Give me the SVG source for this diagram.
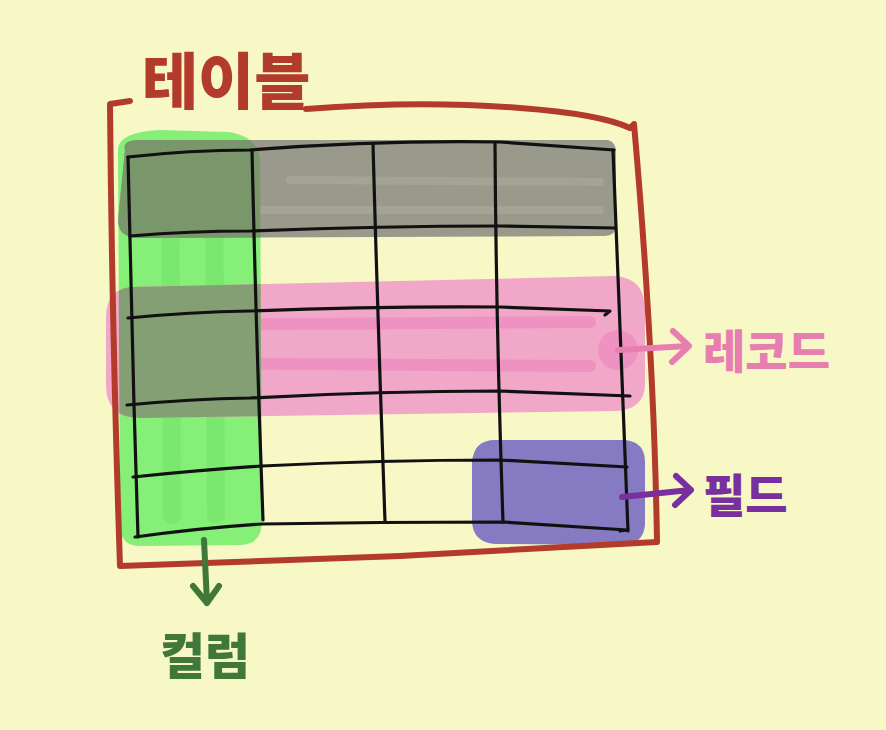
<svg xmlns="http://www.w3.org/2000/svg" width="886" height="730" viewBox="0 0 886 730">
<defs>
<style>
.bg{fill:#f8f8c7}
.frame{fill:none;stroke:#b23b2c;stroke-width:6;stroke-linecap:round;stroke-linejoin:round}
.grid{fill:none;stroke:#111;stroke-width:3.2;stroke-linecap:round;stroke-linejoin:round}
.lbl{font-family:"Noto Sans CJK KR","Noto Sans",sans-serif;font-weight:900}
.arr{fill:none;stroke-width:6;stroke-linecap:round;stroke-linejoin:round}
</style>
<clipPath id="greenClip">
<path d="M118,150 Q118,132 160,130 L228,132 Q258,136 260,160 L262,520 Q262,545 240,545 L140,546 Q120,546 120,525 Z"/>
</clipPath>
</defs>
<rect class="bg" x="0" y="0" width="886" height="730"/>

<g id="highlights">
<!-- green column -->
<path d="M118,150 Q118,132 160,130 L228,132 Q258,136 260,160 L262,520 Q262,545 240,545 L140,546 Q120,546 120,525 Z" fill="#86ef78"/>
<path d="M170,165 L172,515 M214,165 L216,515" stroke="#7ae76e" stroke-width="18" stroke-linecap="round" fill="none"/>
<!-- gray header band -->
<path d="M125,150 Q122,140 140,140 L608,140 Q616,142 616,152 L616,228 Q614,236 604,236 L140,238 Q118,238 118,220 Z" fill="#9a9a8c"/>
<path d="M290,180 L600,182 M150,210 L600,210" stroke="#a4a494" stroke-width="8" stroke-linecap="round" fill="none"/>
<!-- pink record band -->
<path d="M130,287 L615,276 Q645,278 645,310 L645,385 Q644,410 615,411 L140,418 Q106,418 106,385 L106,318 Q106,290 130,287 Z" fill="#f1a8c8"/>
<path d="M160,325 L590,322 M160,363 L590,366" stroke="#ee92c2" stroke-width="12" stroke-linecap="round" fill="none"/>
<circle cx="618" cy="350" r="20" fill="#ee92c2"/>
<!-- overlaps on green column -->
<g clip-path="url(#greenClip)">
<path d="M125,150 Q122,140 140,140 L608,140 Q616,142 616,152 L616,228 Q614,236 604,236 L140,238 Q118,238 118,220 Z" fill="#7a976c"/>
<path d="M130,287 L615,276 Q645,278 645,310 L645,385 Q644,410 615,411 L140,418 Q106,418 106,385 L106,318 Q106,290 130,287 Z" fill="#849f74"/>
</g>
<!-- purple field -->
<path d="M495,440 L625,440 Q645,442 645,462 L645,525 Q643,545 622,545 L495,544 Q472,542 472,520 L472,462 Q474,440 495,440 Z" fill="#867ac2"/>
</g>

<g id="grid">
<path class="grid" d="M128,157 Q190,150 250,150 Q380,140 500,142 L614,150"/>
<path class="grid" d="M130,236 Q190,231 250,231 Q380,226 500,226 L615,228"/>
<path class="grid" d="M128,318 Q190,312 250,311 Q380,306 500,307 L610,311 L605,315"/>
<path class="grid" d="M127,405 Q190,399 250,398 Q380,391 500,391 L630,396"/>
<path class="grid" d="M133,477 Q200,470 262,466 Q380,460 500,460 L627,467"/>
<path class="grid" d="M135,537 Q200,528 262,524 Q380,522 503,522 L627,530 L620,531"/>
<path class="grid" d="M128,157 Q131,300 134,405 L138,537"/>
<path class="grid" d="M252,150 Q256,330 263,520"/>
<path class="grid" d="M373,144 Q378,330 385,521"/>
<path class="grid" d="M495,143 Q496,320 503,522"/>
<path class="grid" d="M613,150 Q620,320 628,531"/>
</g>

<g id="table">
<path class="frame" d="M130,101 L110,104 Q112,330 120,566 L400,556 L657,542 Q654,350 634,124 L630,128"/>
<path class="frame" d="M306,109 Q420,100 520,108 Q600,114 630,128"/>
<text class="lbl" x="142" y="104" font-size="61" fill="#b23b2c">테이블</text>
</g>

<g id="record">
<text class="lbl" x="703" y="368" font-size="46" fill="#e67fb0">레코드</text>
</g>
<g id="field">
<text class="lbl" x="703" y="512" font-size="46" fill="#7a2f9e">필드</text>
</g>
<g id="column">
<text class="lbl" x="160" y="674" font-size="49" fill="#3f7838">컬럼</text>
</g>

<g id="connectors">
<path class="arr" stroke="#e67fb0" d="M618,350 L688,346 M673,331 L689,346 L672,362"/>
<path class="arr" stroke="#7a2f9e" d="M622,497 L690,490 M676,476 L691,490 L675,505"/>
<path class="arr" stroke="#3f7838" d="M204,540 L207,603 M193,586 L207,603 L219,586"/>
</g>
</svg>
